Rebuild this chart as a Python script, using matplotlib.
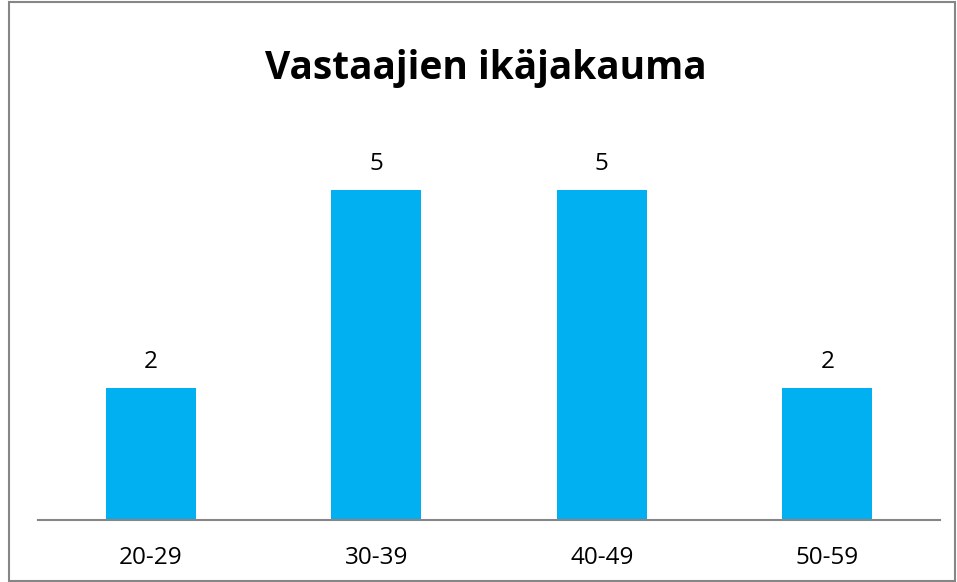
import matplotlib.pyplot as plt
from matplotlib.patches import Rectangle

plt.rcParams["font.family"] = ["Open Sans", "DejaVu Sans"]

ikaryhmat = ["20-29", "30-39", "40-49", "50-59"]
vastaajat = [2, 5, 5, 2]

fig = plt.figure(figsize=(9.57, 5.82), dpi=100)
ax = fig.add_axes([38 / 957, 62 / 582, 902 / 957, 396 / 582])

bars = ax.bar(range(len(ikaryhmat)), vastaajat, width=0.4, color="#00B0F0")
ax.set_xlim(-0.5, len(ikaryhmat) - 0.5)
ax.set_ylim(0, 6)
ax.set_xticks(range(len(ikaryhmat)), ikaryhmat)
ax.tick_params(axis="x", length=0, pad=19, labelsize=17.5)
ax.set_yticks([])
for s in ["top", "right", "left"]:
    ax.spines[s].set_visible(False)
ax.spines["bottom"].set_color("#868686")
ax.spines["bottom"].set_linewidth(1.5)

for b, v in zip(bars, vastaajat):
    ax.annotate(str(v), (b.get_x() + b.get_width() / 2, v), xytext=(0, 10),
                textcoords="offset points", ha="center", va="bottom", fontsize=17.5)

fig.text(486 / 957, 1 - 68 / 582, "Vastaajien ikäjakauma", ha="center", va="center",
         fontsize=28, fontweight="bold")

fig.patches.append(Rectangle((9 / 957, 1 / 582), 946 / 957, 579 / 582,
                             transform=fig.transFigure, fill=False,
                             edgecolor="#868686", linewidth=1.5))

fig.savefig("out.png")
